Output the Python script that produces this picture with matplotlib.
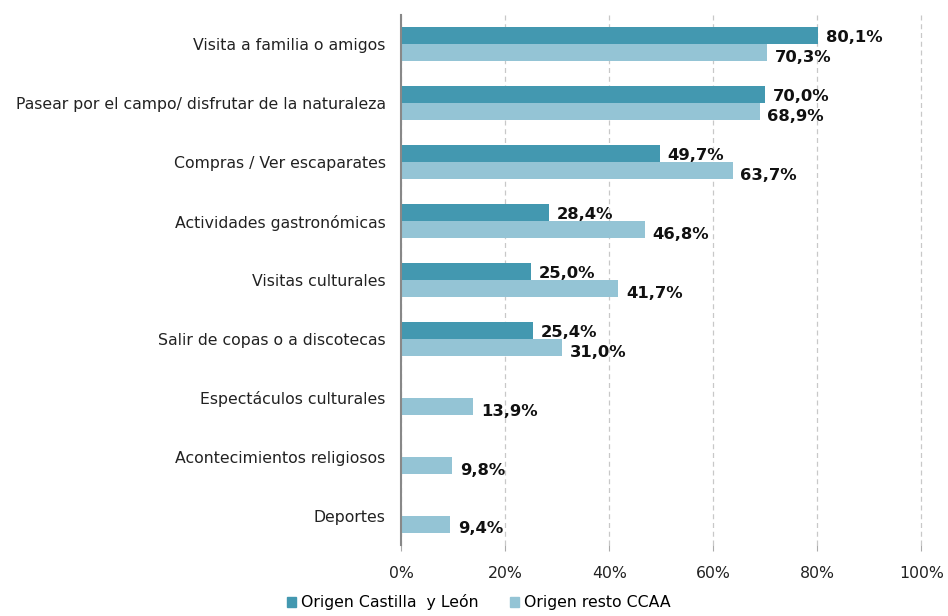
import numpy as np
import matplotlib
matplotlib.use("Agg")
import matplotlib.pyplot as plt
from matplotlib.patches import Patch

categories = ["Visita a familia o amigos",
              "Pasear por el campo/ disfrutar de la naturaleza",
              "Compras / Ver escaparates",
              "Actividades gastronómicas",
              "Visitas culturales",
              "Salir de copas o a discotecas",
              "Espectáculos culturales",
              "Acontecimientos religiosos",
              "Deportes"]
castilla = [80.1, 70.0, 49.7, 28.4, 25.0, 25.4, None, None, None]
resto = [70.3, 68.9, 63.7, 46.8, 41.7, 31.0, 13.9, 9.8, 9.4]
xticks = [0, 20, 40, 60, 80, 100]

dark = "#4398b0"
light = "#94c4d5"

fig = plt.figure(figsize=(9.48, 6.16), dpi=100)
ax = fig.add_axes([0.423, 0.115, 0.549, 0.861])

y = np.arange(len(categories))
h = 0.29

def fmt(v):
    return ("%.1f%%" % v).replace(".", ",")

for i, v in enumerate(castilla):
    if v is None:
        continue
    ax.barh(y[i] - h / 2, v, height=h, color=dark, edgecolor="none")
    ax.text(v + 1.5, y[i] - h / 2 + 0.03, fmt(v), va="center", ha="left",
            fontsize=11.8, fontweight="bold", color="#111111")
for i, v in enumerate(resto):
    ax.barh(y[i] + h / 2, v, height=h, color=light, edgecolor="none")
    ax.text(v + 1.5, y[i] + h / 2 + 0.08, fmt(v), va="center", ha="left",
            fontsize=11.8, fontweight="bold", color="#111111")

ax.set_xlim(0, 100)
ax.set_ylim(8.5, -0.5)
ax.set_yticks(y)
ax.set_yticklabels(categories, fontsize=11.3, color="#222222")
ax.set_xticks(xticks)
ax.set_xticklabels(["%d%%" % t for t in xticks], fontsize=11.3, color="#222222")
ax.tick_params(axis="y", length=0, pad=11)
ax.tick_params(axis="x", length=4, color="#aaaaaa", pad=11)
ax.xaxis.grid(True, linestyle=(0, (4, 3)), color="#c8c8c8", linewidth=0.9)
for gl in ax.get_xgridlines():
    gl.set_clip_on(False)
ax.set_axisbelow(True)
for s in ["top", "right", "bottom"]:
    ax.spines[s].set_visible(False)
ax.spines["left"].set_color("#888888")
ax.spines["left"].set_linewidth(1.5)

handles = [Patch(color=dark, label="Origen Castilla  y León"),
           Patch(color=light, label="Origen resto CCAA")]
fig.legend(handles=handles, loc="lower center", bbox_to_anchor=(0.505, -0.014),
           ncol=2, frameon=False, fontsize=11.3, handlelength=0.6, handleheight=0.6,
           handletextpad=0.3, columnspacing=2.0)

fig.savefig("out.png", dpi=100)
